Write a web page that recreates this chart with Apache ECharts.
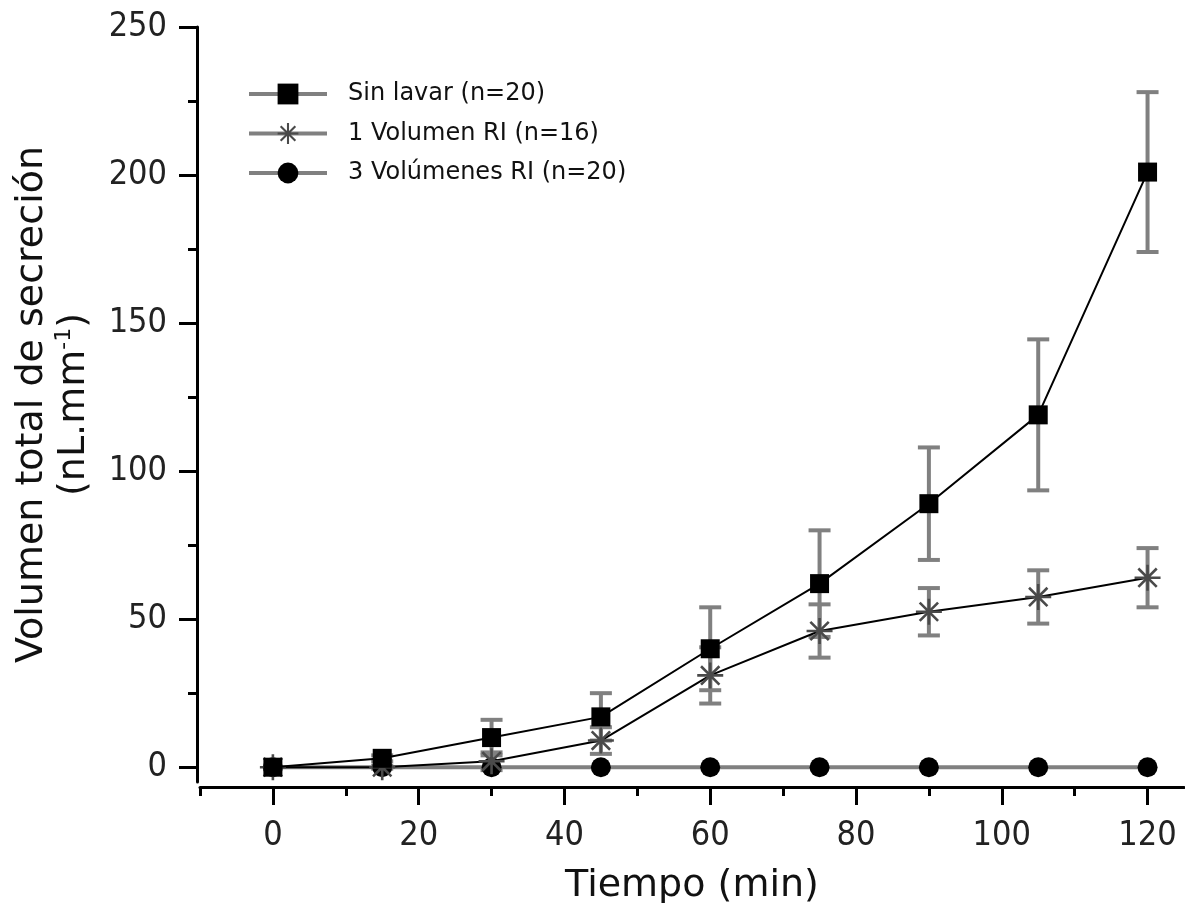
<!DOCTYPE html>
<html>
<head>
<meta charset="utf-8">
<script src="https://cdn.jsdelivr.net/npm/echarts@6/dist/echarts.min.js"></script>
<style>
  html, body { margin: 0; padding: 0; background: #fff; }
  #chart { width: 1185px; height: 903px; }
</style>
</head>
<body>
<div id="chart"></div>
<script>
// valores
const tiempos = [0, 15, 30, 45, 60, 75, 90, 105, 120];
const sinLavar = [0, 3, 10, 17, 40, 62, 89, 119, 201];
const sinLavarErr = [0, 1, 6, 8, 14, 18, 19, 25.5, 27];
const unVolumen = [0, 0, 2, 9, 31, 46, 52.5, 57.5, 64];
const unVolumenErr = [0, 0.5, 3, 4.5, 9.5, 9, 8, 9, 10];
const tresVolumenes = [0, 0, 0, 0, 0, 0, 0, 0, 0];

const nombres = ['Sin lavar (n=20)', '1 Volumen RI (n=16)', '3 Volúmenes RI (n=20)'];
const xMayores = [0, 20, 40, 60, 80, 100, 120];
const xMenores = [-10, 10, 30, 50, 70, 90, 110];
const yMayores = [0, 50, 100, 150, 200, 250];
const yMenores = [25, 75, 125, 175, 225];

const FONT = 'DejaVu Sans';
const FONT_TICK = 'DejaVu Sans Condensed';

// asterisco como rectángulos rellenos
const estrella = 'path://M9 0L11 0L11 20L9 20Z M0 9L20 9L20 11L0 11Z ' +
    'M2.22 3.64L3.64 2.22L17.78 16.36L16.36 17.78Z M16.36 2.22L17.78 3.64L3.64 17.78L2.22 16.36Z';

function pares(ys){
    let res = [];
    for (let i = 0; i < tiempos.length; i ++)
        res.push([tiempos[i], ys[i]]);
    return res;
}

function barras(ys, errs){
    let res = [];
    for (let i = 0; i < tiempos.length; i ++){
        if (errs[i] > 0)
            res.push([tiempos[i], ys[i] - errs[i], ys[i] + errs[i]]);
    }
    return res;
}

function dibujarBarra(params, api){
    let x = api.value(0);
    let lo = api.coord([x, api.value(1)]);
    let hi = api.coord([x, api.value(2)]);
    let w = 11;
    let estilo = {stroke: '#808080', lineWidth: 4};
    return {
        type: 'group',
        children: [
            {type: 'line', shape: {x1: lo[0], y1: lo[1], x2: hi[0], y2: hi[1]}, style: estilo},
            {type: 'line', shape: {x1: hi[0] - w, y1: hi[1], x2: hi[0] + w, y2: hi[1]}, style: estilo},
            {type: 'line', shape: {x1: lo[0] - w, y1: lo[1], x2: lo[0] + w, y2: lo[1]}, style: estilo}
        ]
    };
}

let ejeX = {
    type: 'value', min: -10, max: 125, position: 'bottom', offset: 5,
    axisLine: {show: true, onZero: false, lineStyle: {color: '#000', width: 3}},
    axisTick: {show: true, length: 18, lineStyle: {color: '#000', width: 3}, customValues: xMayores},
    axisLabel: {show: true, margin: 32, fontFamily: FONT_TICK, fontSize: 34, color: '#222', customValues: xMayores},
    splitLine: {show: false},
    name: 'Tiempo (min)', nameLocation: 'middle', nameGap: 80,
    nameTextStyle: {fontFamily: FONT, fontSize: 38, color: '#111'}
};
let ejeXMenor = {
    type: 'value', min: -10, max: 125, position: 'bottom', offset: 5,
    axisLine: {show: false, onZero: false},
    axisTick: {show: true, length: 9, lineStyle: {color: '#000', width: 3}, customValues: xMenores},
    axisLabel: {show: false},
    splitLine: {show: false}
};
let ejeY = {
    type: 'value', min: -5, max: 250, position: 'left', offset: 3,
    axisLine: {show: true, onZero: false, lineStyle: {color: '#000', width: 3}},
    axisTick: {show: true, length: 18, lineStyle: {color: '#000', width: 3}, customValues: yMayores},
    axisLabel: {show: true, margin: 30, fontFamily: FONT_TICK, fontSize: 34, color: '#222', customValues: yMayores},
    splitLine: {show: false},
    name: '{t|Volumen total de secreción}\n{t|(nL.mm}{s|-1}{t|)}',
    nameLocation: 'middle', nameRotate: 90, nameGap: 102,
    nameTextStyle: {
        rich: {
            t: {fontFamily: FONT, fontSize: 38, color: '#111', lineHeight: 42},
            s: {fontFamily: FONT, fontSize: 22, color: '#111', lineHeight: 42, verticalAlign: 'top'}
        }
    }
};
let ejeYMenor = {
    type: 'value', min: -5, max: 250, position: 'left', offset: 3,
    axisLine: {show: false, onZero: false},
    axisTick: {show: true, length: 9, lineStyle: {color: '#000', width: 3}, customValues: yMenores},
    axisLabel: {show: false},
    splitLine: {show: false}
};

let option = {
    animation: false,
    backgroundColor: '#fff',
    grid: {left: 200, right: 1, top: 27, bottom: 121, containLabel: false, outerBoundsMode: 'none'},
    xAxis: [ejeX, ejeXMenor],
    yAxis: [ejeY, ejeYMenor],
    legend: {
        orient: 'vertical', left: 242, top: 77,
        itemWidth: 78, itemHeight: 26, itemGap: 15.5,
        textStyle: {fontFamily: FONT, fontSize: 24, color: '#111', padding: [0, 0, 0, 16]},
        lineStyle: {color: '#808080', width: 4},
        data: nombres
    },
    series: [
        {
            type: 'custom', name: 'err1', xAxisIndex: 0, yAxisIndex: 0, z: 1,
            renderItem: dibujarBarra, data: barras(sinLavar, sinLavarErr)
        },
        {
            type: 'custom', name: 'err2', xAxisIndex: 0, yAxisIndex: 0, z: 1,
            renderItem: dibujarBarra, data: barras(unVolumen, unVolumenErr)
        },
        {
            type: 'line', name: nombres[2], data: pares(tresVolumenes), z: 3,
            symbol: 'circle', symbolSize: 20,
            lineStyle: {color: '#808080', width: 4},
            itemStyle: {color: '#000'}
        },
        {
            type: 'line', name: nombres[1], data: pares(unVolumen), z: 4,
            symbol: estrella, symbolSize: 26,
            lineStyle: {color: '#000', width: 2},
            itemStyle: {color: '#4a4a4a'}
        },
        {
            type: 'line', name: nombres[0], data: pares(sinLavar), z: 5,
            symbol: 'rect', symbolSize: 19,
            lineStyle: {color: '#000', width: 2},
            itemStyle: {color: '#000'}
        }
    ]
};

let grafico = echarts.init(document.getElementById('chart'));
grafico.setOption(option);
</script>
</body>
</html>
